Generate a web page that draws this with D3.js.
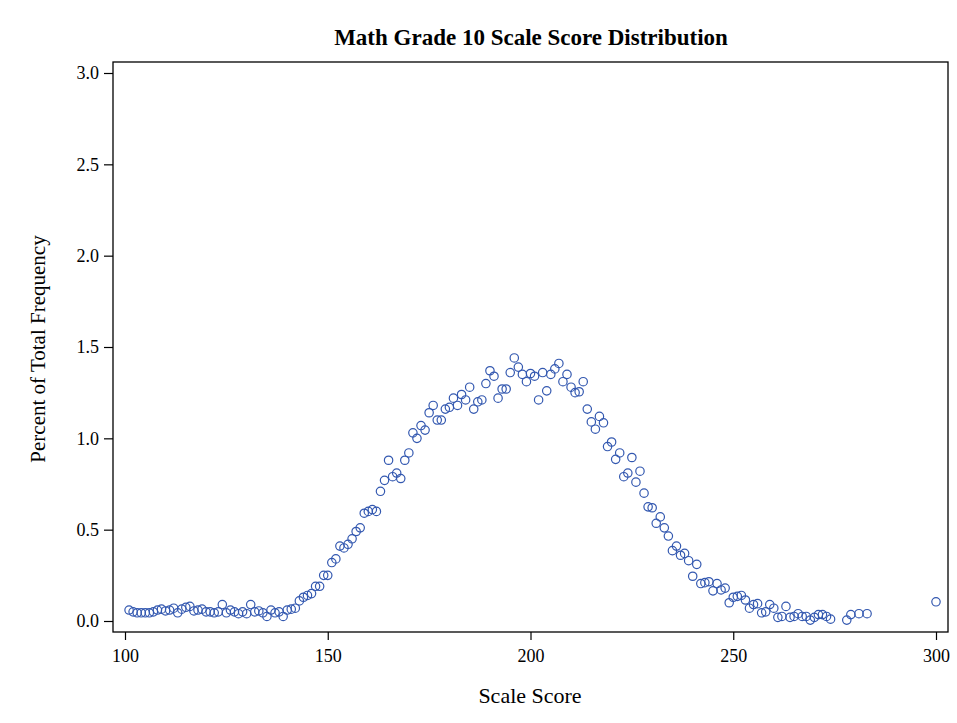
<!DOCTYPE html>
<html><head><meta charset="utf-8">
<script src="https://cdn.jsdelivr.net/npm/d3@7"></script>
<style>body{margin:0;background:#fff}svg{display:block}text{font-family:"Liberation Serif","DejaVu Serif",serif;fill:#000}</style>
</head><body><div id="chart"></div>
<script>
const scores = [101,102,103,104,105,106,107,108,109,110,111,112,113,114,115,116,117,118,119,120,
121,122,123,124,125,126,127,128,129,130,131,132,133,134,135,136,137,138,139,140,
141,142,143,144,145,146,147,148,149,150,151,152,153,154,155,156,157,158,159,160,
161,162,163,164,165,166,167,168,169,170,171,172,173,174,175,176,177,178,179,180,
181,182,183,184,185,186,187,188,189,190,191,192,193,194,195,196,197,198,199,200,
201,202,203,204,205,206,207,208,209,210,211,212,213,214,215,216,217,218,219,220,
221,222,223,224,225,226,227,228,229,230,231,232,233,234,235,236,237,238,239,240,
241,242,243,244,245,246,247,248,249,250,251,252,253,254,255,256,257,258,259,260,
261,262,263,264,265,266,267,268,269,270,271,272,273,274,278,279,281,283,300];
const percents = [0.06,0.05,0.045,0.045,0.045,0.045,0.05,0.06,0.065,0.055,0.06,0.07,0.045,0.065,0.075,0.08,0.055,0.06,0.065,0.05,
0.05,0.045,0.05,0.09,0.045,0.06,0.05,0.04,0.05,0.04,0.09,0.05,0.055,0.045,0.025,0.06,0.045,0.05,0.025,0.06,
0.065,0.07,0.11,0.13,0.14,0.15,0.19,0.19,0.25,0.25,0.32,0.34,0.41,0.40,0.42,0.45,0.49,0.51,0.59,0.60,
0.61,0.60,0.71,0.77,0.88,0.79,0.81,0.78,0.88,0.92,1.03,1.00,1.07,1.045,1.14,1.18,1.10,1.10,1.16,1.17,
1.22,1.18,1.24,1.21,1.28,1.16,1.20,1.21,1.30,1.37,1.34,1.22,1.27,1.27,1.36,1.44,1.39,1.35,1.31,1.355,
1.34,1.21,1.36,1.26,1.35,1.38,1.41,1.31,1.35,1.28,1.25,1.255,1.31,1.16,1.09,1.05,1.12,1.085,0.955,0.98,
0.885,0.92,0.79,0.81,0.895,0.76,0.82,0.70,0.625,0.62,0.535,0.57,0.51,0.465,0.385,0.41,0.36,0.37,0.33,0.245,
0.31,0.205,0.21,0.215,0.165,0.205,0.17,0.18,0.10,0.13,0.135,0.14,0.115,0.07,0.09,0.095,0.045,0.05,0.09,0.07,
0.02,0.025,0.08,0.02,0.025,0.04,0.025,0.025,0.005,0.02,0.035,0.035,0.025,0.01,0.005,0.035,0.04,0.04,0.105];
const xTicks = [100,150,200,250,300];
const yTicks = [0.0,0.5,1.0,1.5,2.0,2.5,3.0];
const titleText = "Math Grade 10 Scale Score Distribution";
const xLabel = "Scale Score";
const yLabel = "Percent of Total Frequency";

const W = 957, H = 723;
const frame = {left:113, right:948, top:62, bottom:632};
const svg = d3.select("#chart").append("svg").attr("width",W).attr("height",H);
const x = d3.scaleLinear().domain([100,300]).range([125,936]);
const y = d3.scaleLinear().domain([0,3]).range([621,73]);

svg.append("rect").attr("x",frame.left).attr("y",frame.top)
  .attr("width",frame.right-frame.left).attr("height",frame.bottom-frame.top)
  .attr("fill","none").attr("stroke","#000").attr("stroke-width",1.3);

const xAxis = svg.append("g").attr("transform",`translate(0,${frame.bottom})`)
  .call(d3.axisBottom(x).tickValues(xTicks).tickSize(8).tickPadding(9).tickFormat(d3.format("d")));
const yAxis = svg.append("g").attr("transform",`translate(${frame.left},0)`)
  .call(d3.axisLeft(y).tickValues(yTicks).tickSize(9).tickPadding(5).tickFormat(d3.format(".1f")));
[xAxis,yAxis].forEach(g=>{
  g.select(".domain").remove();
  g.selectAll(".tick line").attr("stroke","#000").attr("stroke-width",1.2);
  g.selectAll(".tick text").style("font-size","18px").style("font-family","'Liberation Serif',serif");
});

const pts = scores.map((s,i)=>({s, p:percents[i]}));
svg.append("g").selectAll("circle").data(pts).join("circle")
  .attr("cx",d=>x(d.s)).attr("cy",d=>y(d.p)).attr("r",4.2)
  .attr("fill","none").attr("stroke","#3358B0").attr("stroke-width",1.2);

svg.append("text").attr("x",531).attr("y",45).attr("text-anchor","middle")
  .style("font-size","23px").style("font-weight","bold").text(titleText);
svg.append("text").attr("x",530).attr("y",703).attr("text-anchor","middle")
  .style("font-size","22px").text(xLabel);
svg.append("text").attr("transform","translate(45,349) rotate(-90)").attr("text-anchor","middle")
  .style("font-size","21px").text(yLabel);
</script></body></html>
